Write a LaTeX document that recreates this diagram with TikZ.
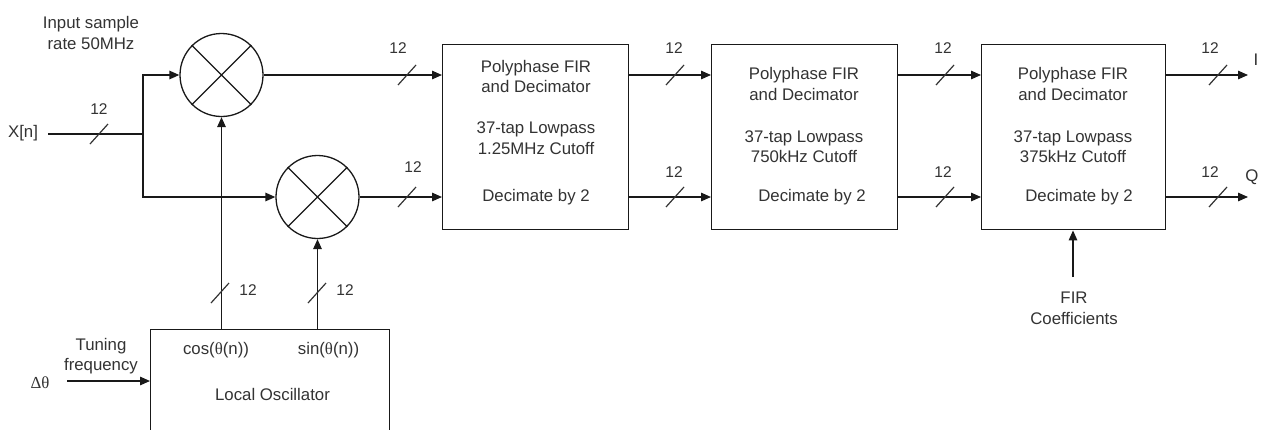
\documentclass[tikz,border=0pt]{standalone}
\usepackage{fontspec}
\setmainfont{Liberation Sans}
\newfontfamily\serifgr{Liberation Serif}
\usetikzlibrary{arrows.meta,calc}
\tikzset{
 wire/.style={line width=1.4pt, draw=black!90},
 arr/.style={wire, -{Triangle[length=10pt,width=8.5pt]}},
 mixer/.style={circle, draw=black!90, line width=1.3pt, minimum size=83pt, inner sep=0pt},
 block/.style={draw=black!90, line width=1.4pt, rectangle, inner sep=0pt, anchor=north west},
 txt/.style={text=black!80, inner sep=0pt, font=\fontsize{16.8}{20.5}\selectfont, align=center},
 bw/.style={txt, font=\fontsize{15.5}{18}\selectfont},
 busmark/.pic={\draw[line width=1.2pt, draw=black!80] (-9,10) -- (9,-10);},
}
\begin{document}
\begin{tikzpicture}[x=1pt,y=-1pt]
\clip (0,0) rectangle (1265,429);
\fill[white] (0,0) rectangle (1265,429);

% mixers
\node[mixer] (m1) at (221.5,75) {};
\node[mixer] (m2) at (317.5,197) {};
\draw[wire, line width=1.3pt] (m1.45) -- (m1.225) (m1.135) -- (m1.315);
\draw[wire, line width=1.3pt] (m2.45) -- (m2.225) (m2.135) -- (m2.315);

% blocks
\node[block, minimum width=239pt, minimum height=140pt] (lo) at (150,329) {};
\node[block, minimum width=186pt, minimum height=185pt] (f1) at (442,44) {};
\node[block, minimum width=186pt, minimum height=185pt] (f2) at (711,44) {};
\node[block, minimum width=184pt, minimum height=185pt] (f3) at (981,44) {};

% texts
\node[txt] (isr) at (91,33) {Input sample\\rate 50MHz};
\node[txt] (xn) at (23,133) {X[n]};
\node[txt] (tun) at (101,356) {Tuning\\frequency};
\node[txt, font=\serifgr\fontsize{16.8}{20}\selectfont] (dth) at (40,383) {Δθ};
\node[txt] (cos) at (216,350) {cos({\serifgr θ}(n))};
\node[txt] (sin) at (328.5,350) {sin({\serifgr θ}(n))};
\node[txt] (loc) at (272.5,394) {Local Oscillator};

\node[txt] (f1a) at (536,76.7) {Polyphase FIR\\and Decimator};
\node[txt] (f1b) at (536,138) {37-tap Lowpass\\1.25MHz Cutoff};
\node[txt] (f1c) at (536,197) {Decimate by 2};
\node[txt] (f2a) at (804,84) {Polyphase FIR\\and Decimator};
\node[txt] (f2b) at (804,146.5) {37-tap Lowpass\\750kHz Cutoff};
\node[txt] (f2c) at (812,197) {Decimate by 2};
\node[txt] (f3a) at (1073,84) {Polyphase FIR\\and Decimator};
\node[txt] (f3b) at (1073,146.5) {37-tap Lowpass\\375kHz Cutoff};
\node[txt] (f3c) at (1079,197) {Decimate by 2};

\node[txt] (fir) at (1074,308.5) {FIR\\Coefficients};
\node[txt] (iq) at (1256,60) {I};
\node[txt] (qq) at (1252,177) {Q};

% coordinates
\coordinate (xs) at (48,134);
\coordinate (j) at (143,134);
\coordinate (dts) at (67,381);
\coordinate (iout) at (1248,75);
\coordinate (qout) at (1248,197);
\coordinate (fc) at (1073,277);

% connectors
\draw[wire] (xs) -- (j);
\draw[arr] (j) |- (m1.west);
\draw[arr] (j) |- (m2.west);
\draw[arr] (m1.south |- lo.north) -- (m1.south);
\draw[arr] (m2.south |- lo.north) -- (m2.south);
\draw[arr] (dts) -- (dts -| lo.west);
\draw[arr] (m1.east) -- (m1.east -| f1.west);
\draw[arr] (m2.east) -- (m2.east -| f1.west);
\draw[arr] (f1.east |- m1.east) -- (f2.west |- m1.east);
\draw[arr] (f1.east |- m2.east) -- (f2.west |- m2.east);
\draw[arr] (f2.east |- m1.east) -- (f3.west |- m1.east);
\draw[arr] (f2.east |- m2.east) -- (f3.west |- m2.east);
\draw[arr] (f3.east |- m1.east) -- (iout);
\draw[arr] (f3.east |- m2.east) -- (qout);
\draw[arr] (fc) -- (fc |- f3.south);

% bus marks
\foreach \p in {(99,134),(407,75),(407,197),(675,75),(675,197),(945,75),(945,197),(1218,75),(1218,197),(220,293),(317,293)}
  \pic at \p {busmark};

% bus widths
\node[bw] (w0) at (99,109) {12};
\node[bw] (w1) at (398,48) {12};
\node[bw] (w2) at (413,167) {12};
\node[bw] (w3) at (674,48) {12};
\node[bw] (w4) at (674,172) {12};
\node[bw] (w5) at (943,48) {12};
\node[bw] (w6) at (943,172) {12};
\node[bw] (w7) at (1210,48) {12};
\node[bw] (w8) at (1210,172) {12};
\node[bw] (w9) at (248,290) {12};
\node[bw] (w10) at (345,290) {12};
\end{tikzpicture}
\end{document}
